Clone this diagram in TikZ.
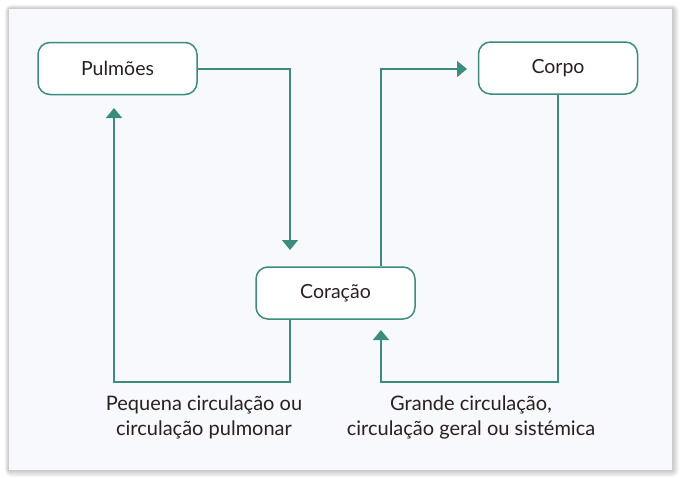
\documentclass[tikz,border=0pt]{standalone}
\usepackage{fontspec}
\setmainfont{Lato}
\usetikzlibrary{arrows.meta}
\definecolor{edge}{HTML}{3A8C7C}
\definecolor{ink}{HTML}{2A2020}
\definecolor{paper}{HTML}{F8F9FC}
\tikzset{
  box/.style={draw=edge, line width=1.5pt, rounded corners=12pt, fill=white, minimum width=159pt, minimum height=52pt, text=ink, font=\fontsize{19.5}{21}\selectfont},
  flow/.style={draw=edge, line width=1.4pt, -{Triangle[length=10pt,width=16pt]}},
  lbl/.style={text=ink, align=center, font=\fontsize{20}{25}\selectfont}
}
\begin{document}
\begin{tikzpicture}[x=1pt,y=-1pt]
\useasboundingbox (0,0) rectangle (680,477);
\fill[white] (0,0) rectangle (680,477);
% shadow
\foreach \i/\c in {7/97,6/94,5/91,4/88,3/85,2/82,1/80}{
  \fill[black!\the\numexpr100-\c\relax, rounded corners=\i pt] (9-\i*0.6,9-\i*0.6) rectangle (672+\i,470+\i);
}
\fill[paper] (9,9) rectangle (672,470);
% nodes
\node[box] (pul) at (117.5,68.5) {Pulmões};
\node[box] (cor) at (558,68) {Corpo};
\node[box] (hea) at (335.5,293) {Coração};
\coordinate (a1) at (290,69);
\coordinate (a2) at (290,250);
\coordinate (b1) at (290,382);
\coordinate (b2) at (114,382);
\coordinate (b3) at (114,108);
\coordinate (c1) at (381,69);
\coordinate (c2) at (467,69);
\coordinate (d1) at (558,382);
\coordinate (d2) at (381,382);
\coordinate (d3) at (381,330);
% connectors
\draw[flow] (pul.east |- a1) -- (a1) -- (a2);
\draw[flow] (hea.south -| b1) -- (b1) -- (b2) -- (b3);
\draw[flow] (hea.north -| c1) -- (c1) -- (c2);
\draw[flow] (cor.south -| d1) -- (d1) -- (d2) -- (d3);
% labels
\node[lbl] (l1) at (204,417.5) {Pequena circulação ou\\circulação pulmonar};
\node[lbl] (l2) at (471,417.5) {Grande circulação,\\circulação geral ou sistémica};
\end{tikzpicture}
\end{document}
